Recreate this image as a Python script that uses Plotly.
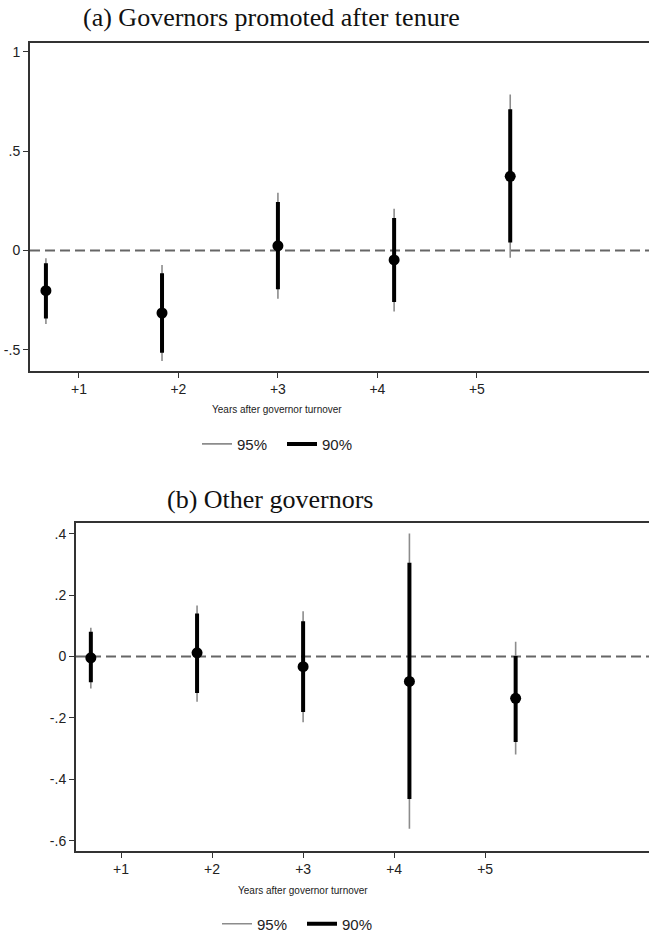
import plotly.graph_objects as go

# ---- data ----
x_pos = [0.668, 1.835, 3.0, 4.168, 5.335]
tick_vals = [1, 2, 3, 4, 5]
tick_text = ["+1", "+2", "+3", "+4", "+5"]

# Panel (a): Governors promoted after tenure
a_est = [-0.203, -0.315, 0.023, -0.048, 0.373]
a_lo95 = [-0.370, -0.557, -0.243, -0.307, -0.037]
a_hi95 = [-0.040, -0.073, 0.290, 0.210, 0.785]
a_lo90 = [-0.343, -0.515, -0.195, -0.260, 0.040]
a_hi90 = [-0.065, -0.115, 0.243, 0.163, 0.710]
a_yticks = [-0.5, 0, 0.5, 1]
a_yticktext = ["-.5", "0", ".5", "1"]

# Panel (b): Other governors
b_est = [-0.004, 0.012, -0.033, -0.081, -0.136]
b_lo95 = [-0.104, -0.147, -0.214, -0.561, -0.319]
b_hi95 = [0.094, 0.166, 0.148, 0.401, 0.048]
b_lo90 = [-0.084, -0.119, -0.181, -0.464, -0.278]
b_hi90 = [0.081, 0.140, 0.115, 0.306, 0.002]
b_yticks = [-0.6, -0.4, -0.2, 0, 0.2, 0.4]
b_yticktext = ["-.6", "-.4", "-.2", "0", ".2", ".4"]

W, H = 649, 941
SANS = "Liberation Sans Narrow, Arial Narrow, Liberation Sans, Arial, sans-serif"
SERIF = "Liberation Serif, Times New Roman, serif"


def segs(xs, lo, hi):
    X, Y = [], []
    for x, l, h in zip(xs, lo, hi):
        X += [x, x, None]
        Y += [l, h, None]
    return X, Y


fig = go.Figure()


def add_panel(xa, ya, legend, est, lo95, hi95, lo90, hi90):
    X, Y = segs(x_pos, lo95, hi95)
    fig.add_trace(go.Scatter(x=X, y=Y, mode="lines", name="95%",
                             line=dict(color="#8c8c8c", width=1.6),
                             xaxis=xa, yaxis=ya, legend=legend, showlegend=True))
    X, Y = segs(x_pos, lo90, hi90)
    fig.add_trace(go.Scatter(x=X, y=Y, mode="lines", name="90%",
                             line=dict(color="#000000", width=4),
                             xaxis=xa, yaxis=ya, legend=legend, showlegend=True))
    fig.add_trace(go.Scatter(x=x_pos, y=est, mode="markers", name="est",
                             marker=dict(color="#000000", size=11),
                             xaxis=xa, yaxis=ya, showlegend=False))


add_panel("x", "y", "legend", a_est, a_lo95, a_hi95, a_lo90, a_hi90)
add_panel("x2", "y2", "legend2", b_est, b_lo95, b_hi95, b_lo90, b_hi90)

axis_common = dict(showgrid=False, zeroline=False, showline=True,
                   linecolor="#333333", linewidth=2, ticks="outside",
                   ticklen=5, tickwidth=1.3, tickcolor="#333333",
                   tickfont=dict(family=SANS, size=14, color="#222222"))

leg_common = dict(orientation="h", xanchor="center", yanchor="middle",
                  font=dict(family=SANS, size=15, color="#222222"),
                  bgcolor="rgba(0,0,0,0)", entrywidth=40,
                  entrywidthmode="pixels")

fig.update_layout(
    width=W, height=H,
    margin=dict(l=0, r=0, t=0, b=0),
    paper_bgcolor="white", plot_bgcolor="white",
    xaxis=dict(domain=[30 / W, 1], range=[0.508, 6.73], anchor="y",
               tickvals=tick_vals, ticktext=tick_text, mirror=True,
               **axis_common),
    yaxis=dict(domain=[(H - 373) / H, (H - 43) / H], range=[-0.605, 1.045],
               anchor="x", tickvals=a_yticks, ticktext=a_yticktext,
               **axis_common),
    xaxis2=dict(domain=[76 / W, 1], range=[0.505, 6.80], anchor="y2",
                tickvals=tick_vals, ticktext=tick_text, mirror=True,
                **axis_common),
    yaxis2=dict(domain=[(H - 856) / H, (H - 526.7) / H], range=[-0.632, 0.434],
                anchor="x2", tickvals=b_yticks, ticktext=b_yticktext,
                **axis_common),
    legend=dict(x=282 / W, y=1 - 447 / H, **leg_common),
    legend2=dict(x=302 / W, y=1 - 930 / H, **leg_common),
    showlegend=True,
)

# dashed zero lines
for xr, yr in [("x domain", "y"), ("x2 domain", "y2")]:
    fig.add_shape(type="line", xref=xr, yref=yr, x0=0, x1=1, y0=0, y1=0,
                  line=dict(color="#666666", width=2, dash="10px,5px"),
                  layer="below")

# titles
fig.add_annotation(text="(a) Governors promoted after tenure", xref="paper", yref="paper",
                   x=271 / W, y=1 - 18 / H, xanchor="center", yanchor="middle",
                   showarrow=False, font=dict(family=SERIF, size=26, color="#111111"))
fig.add_annotation(text="(b) Other governors", xref="paper", yref="paper",
                   x=270 / W, y=1 - 503 / H, xanchor="center", yanchor="middle",
                   showarrow=False, font=dict(family=SERIF, size=26, color="#111111"))

# x-axis titles
fig.add_annotation(text="Years after governor turnover", xref="paper", yref="paper",
                   x=277 / W, y=1 - 412 / H, xanchor="center", yanchor="middle",
                   showarrow=False, font=dict(family=SANS, size=10, color="#222222"))
fig.add_annotation(text="Years after governor turnover", xref="paper", yref="paper",
                   x=303 / W, y=1 - 896 / H, xanchor="center", yanchor="middle",
                   showarrow=False, font=dict(family=SANS, size=10, color="#222222"))

fig.write_html(
    "out.html",
    config={"displayModeBar": False},
    post_script="document.body.style.margin='0';document.body.style.overflow='hidden';",
)
